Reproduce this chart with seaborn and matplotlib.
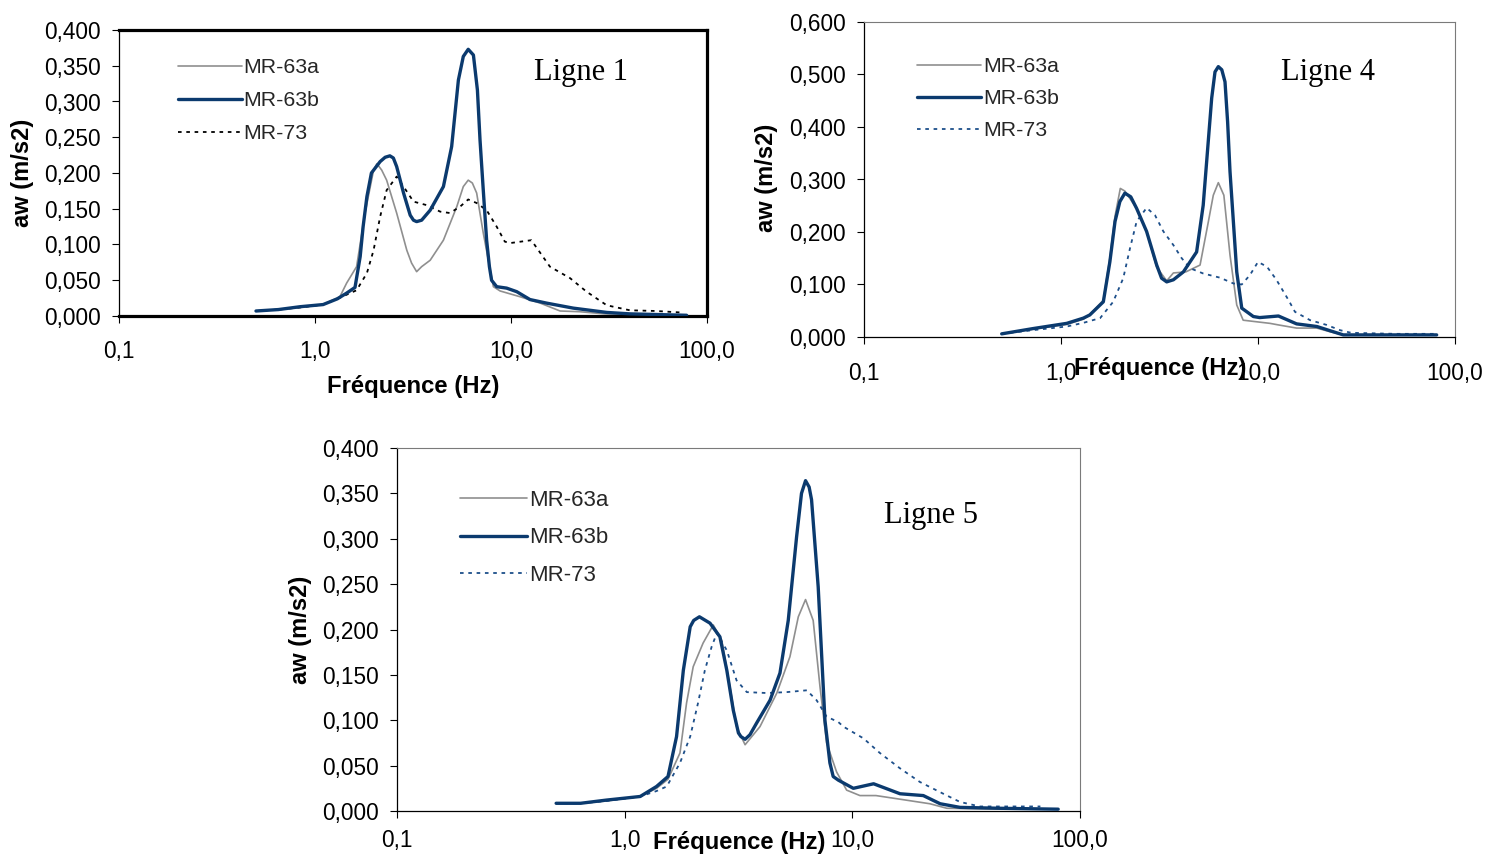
import matplotlib
matplotlib.use("Agg")
import matplotlib.pyplot as plt
import seaborn as sns
import pandas as pd
from matplotlib.ticker import FixedLocator, FuncFormatter, NullLocator

# ---------------- data : weighted acceleration spectra ----------------
series_names = ["MR-63a", "MR-63b", "MR-73"]
freq_ticks = [0.1, 1.0, 10.0, 100.0]
freq_tick_labels = ["0,1", "1,0", "10,0", "100,0"]

# Ligne 1
l1_f_63a = [0.5, 0.65, 0.84, 1.1, 1.34, 1.45, 1.63, 1.80, 1.99, 2.07, 2.19, 2.32, 2.61, 2.94, 3.11,
            3.30, 3.50, 3.87, 4.52, 5.29, 5.71, 6.05, 6.35, 6.68, 7.22, 8.13, 8.8, 11.1, 14.1,
            17.8, 22.4, 30, 45, 78]
l1_v_63a = [0.007, 0.009, 0.012, 0.016, 0.027, 0.046, 0.069, 0.144, 0.204, 0.213, 0.204, 0.190,
            0.144, 0.092, 0.074, 0.062, 0.069, 0.078, 0.106, 0.153, 0.181, 0.190, 0.186, 0.172,
            0.116, 0.041, 0.035, 0.027, 0.018, 0.007, 0.006, 0.003, 0.002, 0.001]
l1_f_63b = [0.5, 0.65, 0.84, 1.1, 1.3, 1.45, 1.60, 1.70, 1.76, 1.84, 1.94, 2.15, 2.28, 2.41, 2.51,
            2.61, 2.83, 3.06, 3.18, 3.30, 3.50, 3.87, 4.52, 4.98, 5.39, 5.71, 6.05, 6.43, 6.74,
            6.95, 7.22, 7.51, 7.76, 7.96, 8.45, 9.5, 10.7, 12.5, 15.2, 20.8, 30.8, 40.4, 78.7]
l1_v_63b = [0.007, 0.009, 0.013, 0.016, 0.024, 0.032, 0.040, 0.083, 0.125, 0.167, 0.200, 0.216,
            0.222, 0.224, 0.221, 0.209, 0.172, 0.141, 0.134, 0.132, 0.134, 0.148, 0.181, 0.237,
            0.330, 0.363, 0.373, 0.365, 0.316, 0.246, 0.176, 0.106, 0.069, 0.050, 0.041, 0.039,
            0.034, 0.023, 0.018, 0.011, 0.005, 0.003, 0.001]
l1_f_73 = [0.5, 0.65, 0.84, 1.1, 1.3, 1.63, 1.84, 1.99, 2.15, 2.32, 2.61, 2.83, 3.18, 3.72, 4.35,
           4.88, 5.50, 6.05, 6.68, 7.51, 8.45, 9.3, 9.9, 12.7, 15.8, 20, 24.3, 30.8, 40.4, 55, 72.8]
l1_v_73 = [0.007, 0.009, 0.012, 0.016, 0.024, 0.036, 0.060, 0.092, 0.139, 0.176, 0.195, 0.181,
           0.160, 0.155, 0.146, 0.144, 0.153, 0.163, 0.158, 0.148, 0.125, 0.104, 0.102, 0.106,
           0.069, 0.053, 0.034, 0.015, 0.008, 0.007, 0.005]

# Ligne 4
l4_f_63a = [0.5, 0.72, 1.07, 1.30, 1.40, 1.64, 1.77, 1.88, 2.0, 2.11, 2.42, 2.72, 3.06, 3.44, 3.72,
            4.3, 5.08, 5.6, 5.93, 6.29, 6.71, 7.21, 7.80, 8.41, 11.5, 12.7, 15.7, 19.9, 23.2,
            27.1, 80]
l4_v_63a = [0.006, 0.015, 0.024, 0.034, 0.043, 0.070, 0.150, 0.230, 0.283, 0.278, 0.245, 0.200,
            0.133, 0.107, 0.122, 0.124, 0.137, 0.220, 0.270, 0.294, 0.270, 0.156, 0.061, 0.032,
            0.026, 0.023, 0.017, 0.017, 0.010, 0.004, 0.004]
l4_f_63b = [0.5, 0.72, 1.07, 1.30, 1.40, 1.64, 1.77, 1.88, 1.99, 2.11, 2.26, 2.42, 2.72, 3.06, 3.24,
            3.44, 3.72, 4.18, 4.88, 5.27, 5.82, 6.05, 6.29, 6.55, 6.80, 7.01, 7.21, 7.80, 8.27,
            9.47, 10.2, 12.7, 15.7, 19.9, 23.2, 27.1, 80.7]
l4_v_63b = [0.006, 0.016, 0.026, 0.036, 0.042, 0.067, 0.143, 0.220, 0.258, 0.274, 0.267, 0.245,
            0.201, 0.137, 0.112, 0.105, 0.109, 0.124, 0.162, 0.251, 0.455, 0.505, 0.515, 0.509,
            0.486, 0.410, 0.315, 0.124, 0.055, 0.039, 0.037, 0.040, 0.025, 0.020, 0.012, 0.004,
            0.004]
l4_f_73 = [0.5, 0.72, 1.07, 1.30, 1.58, 1.84, 2.07, 2.24, 2.42, 2.72, 3.0, 3.31, 3.72, 4.10, 4.52,
           5.27, 6.41, 7.50, 8.27, 9.1, 10.0, 11.1, 12.4, 14.3, 15.4, 18.4, 22.3, 26.1, 29.7,
           50, 80]
l4_v_73 = [0.006, 0.013, 0.020, 0.027, 0.036, 0.067, 0.112, 0.169, 0.220, 0.246, 0.232, 0.201,
           0.175, 0.150, 0.131, 0.121, 0.113, 0.102, 0.100, 0.118, 0.143, 0.134, 0.109, 0.070,
           0.048, 0.032, 0.023, 0.013, 0.008, 0.006, 0.006]

# Ligne 5
l5_f_63a = [0.5, 0.64, 0.83, 1.17, 1.38, 1.55, 1.75, 1.87, 2.0, 2.21, 2.45, 2.67, 2.90, 3.10, 3.38,
            3.93, 4.66, 5.32, 5.79, 6.23, 6.73, 7.21, 7.71, 8.53, 9.44, 10.8, 12.7, 16.2, 21.9,
            26, 45, 80]
l5_v_63a = [0.0085, 0.0085, 0.011, 0.016, 0.025, 0.035, 0.064, 0.119, 0.159, 0.185, 0.205, 0.188,
            0.137, 0.093, 0.073, 0.093, 0.130, 0.170, 0.214, 0.233, 0.210, 0.137, 0.075, 0.043,
            0.023, 0.017, 0.017, 0.013, 0.008, 0.003, 0.002, 0.002]
l5_f_63b = [0.5, 0.64, 0.83, 1.17, 1.38, 1.55, 1.69, 1.81, 1.94, 2.01, 2.13, 2.37, 2.62, 2.81, 3.0,
            3.16, 3.24, 3.38, 3.55, 3.80, 4.35, 4.81, 5.23, 5.69, 5.98, 6.23, 6.46, 6.62, 7.08,
            7.58, 7.97, 8.24, 8.68, 10.1, 12.4, 16.2, 20.5, 24.3, 29.7, 44.5, 80.2]
l5_v_63b = [0.0085, 0.0085, 0.012, 0.016, 0.027, 0.038, 0.082, 0.155, 0.203, 0.210, 0.214, 0.207,
            0.192, 0.155, 0.111, 0.086, 0.082, 0.079, 0.084, 0.097, 0.122, 0.152, 0.210, 0.302,
            0.350, 0.364, 0.357, 0.343, 0.247, 0.100, 0.053, 0.038, 0.034, 0.025, 0.030, 0.019,
            0.017, 0.008, 0.004, 0.003, 0.002]
l5_f_73 = [0.5, 0.64, 0.83, 1.17, 1.38, 1.53, 1.75, 1.94, 2.10, 2.25, 2.41, 2.54, 2.81, 3.10, 3.44,
           4.21, 5.15, 6.31, 6.97, 7.71, 8.68, 9.13, 11.2, 13.2, 16.2, 19.8, 25.1, 29.7, 36.3, 67]
l5_v_73 = [0.0085, 0.0085, 0.011, 0.016, 0.022, 0.027, 0.053, 0.082, 0.119, 0.155, 0.181, 0.196,
           0.177, 0.144, 0.131, 0.130, 0.131, 0.133, 0.122, 0.104, 0.098, 0.093, 0.080, 0.064,
           0.047, 0.032, 0.019, 0.010, 0.005, 0.005]

# ---------------- style ----------------
sns.set_theme(style="white")
plt.rcParams["font.family"] = ["Liberation Sans", "DejaVu Sans"]
plt.rcParams["axes.linewidth"] = 0.8

GREY = "#8f8f8f"
NAVY = "#0b3a6e"
NAVY_DOT = "#1d4f8a"

fig = plt.figure(figsize=(14.88, 8.55), dpi=100)


def comma_fmt(v, _):
    return f"{v:.3f}".replace(".", ",")


def draw_panel(rect, data, ymax, ystep, title, dot_color, heavy_frame,
               leg_anchor, leg_fs, leg_space, title_pos, xlabel_pos, ylabel_pos, xpad):
    ax = fig.add_axes(rect)
    styles = {
        "MR-63a": dict(color=GREY, lw=1.2, ls="-", zorder=2),
        "MR-63b": dict(color=NAVY, lw=2.4, ls="-", zorder=4),
        "MR-73": dict(color=dot_color, lw=1.3, ls=(0, (2.0, 2.6)), zorder=3),
    }
    for name in series_names:
        f, v = data[name]
        df = pd.DataFrame({"f": f, "v": v})
        st = styles[name]
        sns.lineplot(data=df, x="f", y="v", ax=ax, estimator=None, sort=True,
                     color=st["color"], lw=st["lw"], ls=st["ls"], zorder=st["zorder"],
                     label=name)
    ax.set_xscale("log")
    ax.set_xlim(0.1, 100)
    ax.set_ylim(0, ymax)
    ax.xaxis.set_major_locator(FixedLocator(freq_ticks))
    ax.xaxis.set_minor_locator(NullLocator())
    ax.set_xticklabels(freq_tick_labels)
    n = int(round(ymax / ystep))
    ax.yaxis.set_major_locator(FixedLocator([i * ystep for i in range(n + 1)]))
    ax.yaxis.set_major_formatter(FuncFormatter(comma_fmt))
    ax.tick_params(axis="both", which="major", direction="out", length=5, width=0.8,
                   color="black", labelsize=16.3, labelcolor="black")
    ax.tick_params(axis="x", pad=xpad)
    ax.tick_params(axis="y", pad=8)
    ax.tick_params(left=True, bottom=True)

    for side in ["left", "bottom"]:
        ax.spines[side].set_color("black")
        ax.spines[side].set_linewidth(0.9)
    for side in ["top", "right"]:
        ax.spines[side].set_color("#7a7a7a")
        ax.spines[side].set_linewidth(0.8)
    if heavy_frame:
        for side in ["top", "right", "bottom"]:
            ax.spines[side].set_color("black")
            ax.spines[side].set_linewidth(2.3)

    ax.set_xlabel("Fréquence (Hz)", fontsize=17.2, fontweight="bold", color="black")
    ax.set_ylabel("aw (m/s2)", fontsize=17, fontweight="bold", color="black")
    ax.xaxis.set_label_coords(*xlabel_pos)
    ax.yaxis.set_label_coords(*ylabel_pos)

    ax.legend(loc="upper left", bbox_to_anchor=leg_anchor, frameon=False,
              fontsize=leg_fs, handlelength=3.0, handletextpad=0.1,
              labelspacing=leg_space, borderpad=0, borderaxespad=0)

    ax.text(title_pos[0], title_pos[1], title, transform=ax.transAxes,
            fontsize=22, family=["Liberation Serif", "DejaVu Serif"],
            ha="left", va="center", color="black")
    return ax


draw_panel([119 / 1488, 1 - 316 / 855, 588 / 1488, 286 / 855],
           {"MR-63a": (l1_f_63a, l1_v_63a), "MR-63b": (l1_f_63b, l1_v_63b),
            "MR-73": (l1_f_73, l1_v_73)},
           0.4, 0.05, "Ligne 1", "black", True,
           (0.100, 0.902), 15.3, 0.66, (0.706, 0.853), (0.5, -0.205), (-0.145, 0.5), 12)

draw_panel([864 / 1488, 1 - 337 / 855, 591 / 1488, 315 / 855],
           {"MR-63a": (l4_f_63a, l4_v_63a), "MR-63b": (l4_f_63b, l4_v_63b),
            "MR-73": (l4_f_73, l4_v_73)},
           0.6, 0.1, "Ligne 4", NAVY_DOT, False,
           (0.0897, 0.889), 15.3, 0.62, (0.7056, 0.841), (0.501, -0.063), (-0.1455, 0.505), 13)

draw_panel([397 / 1488, 1 - 811 / 855, 683 / 1488, 363 / 855],
           {"MR-63a": (l5_f_63a, l5_v_63a), "MR-63b": (l5_f_63b, l5_v_63b),
            "MR-73": (l5_f_73, l5_v_73)},
           0.4, 0.05, "Ligne 5", NAVY_DOT, False,
           (0.0922, 0.884), 16, 0.73, (0.713, 0.8127), (0.5007, -0.055), (-0.1245, 0.4986), 8)

fig.savefig("out.png", dpi=100, facecolor="white")
